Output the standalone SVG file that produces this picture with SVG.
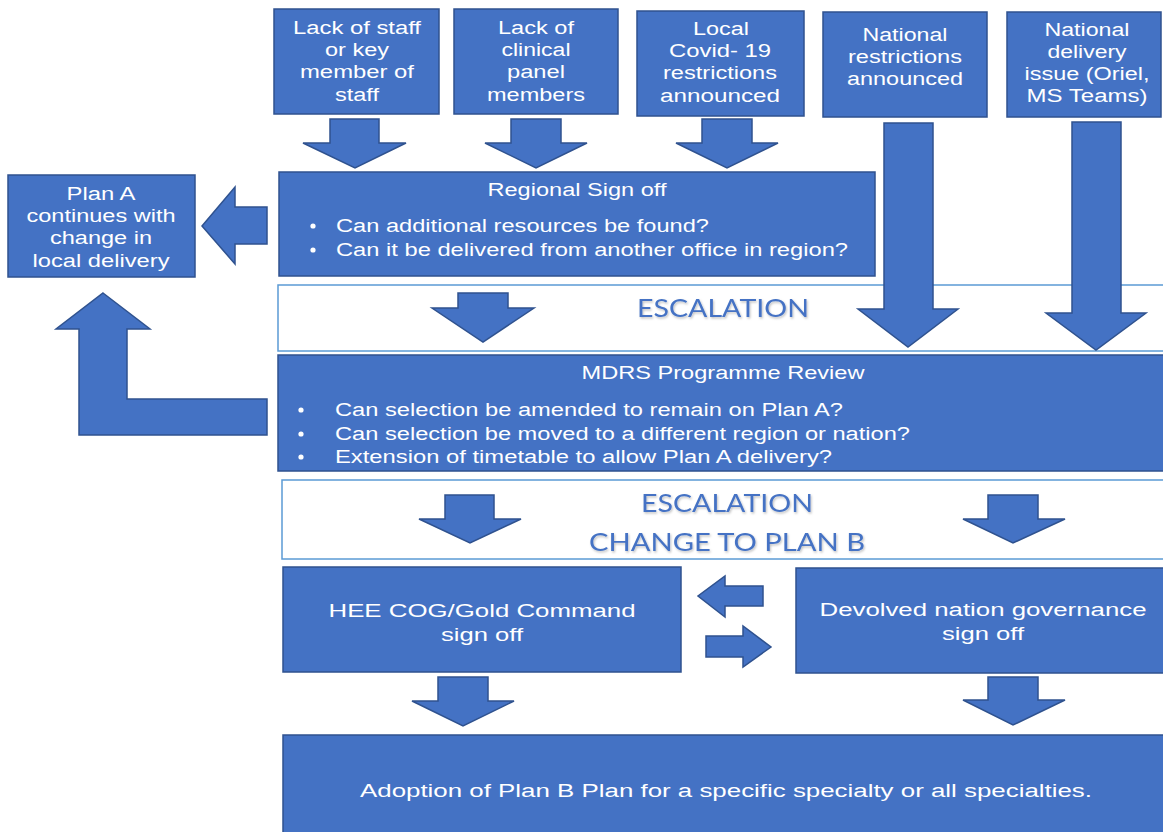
<svg xmlns="http://www.w3.org/2000/svg" width="1163" height="832" viewBox="0 0 1163 832">
<defs>
<style>
.box{fill:#4472C4;stroke:#2F528F;stroke-width:1.5}
.band{fill:#FFFFFF;stroke:#5B9BD5;stroke-width:1.5}
.arr{fill:#4472C4;stroke:#2F528F;stroke-width:1.5;stroke-linejoin:miter}
.t{font-family:"Liberation Sans",Arial,sans-serif;font-size:18px;fill:#FFFFFF;text-anchor:middle}
.tl{font-family:"Liberation Sans",Arial,sans-serif;font-size:18px;fill:#FFFFFF}
.esc{font-family:Lato,"Open Sans",sans-serif;font-size:25px;fill:#4472C4;filter:url(#sh)}
</style>
<filter id="sh" x="-10%" y="-30%" width="120%" height="160%">
<feDropShadow dx="1" dy="1.5" stdDeviation="1" flood-color="#000000" flood-opacity="0.25"/>
</filter>
</defs>
<rect width="1163" height="832" fill="#FFFFFF"/>

<g id="lack-staff">
<rect class="box" x="274" y="9" width="165" height="105"/>
<text class="t" x="357" y="34" textLength="128" lengthAdjust="spacingAndGlyphs">Lack of staff</text>
<text class="t" x="357" y="56" textLength="64" lengthAdjust="spacingAndGlyphs">or key</text>
<text class="t" x="357" y="78" textLength="114" lengthAdjust="spacingAndGlyphs">member of</text>
<text class="t" x="357" y="101" textLength="44" lengthAdjust="spacingAndGlyphs">staff</text>
</g>
<g id="lack-panel">
<rect class="box" x="454" y="9" width="164" height="105"/>
<text class="t" x="536" y="34" textLength="76" lengthAdjust="spacingAndGlyphs">Lack of</text>
<text class="t" x="536" y="56" textLength="69" lengthAdjust="spacingAndGlyphs">clinical</text>
<text class="t" x="536" y="78" textLength="58" lengthAdjust="spacingAndGlyphs">panel</text>
<text class="t" x="536" y="101" textLength="98" lengthAdjust="spacingAndGlyphs">members</text>
</g>
<g id="local-covid">
<rect class="box" x="637" y="11" width="167" height="105"/>
<text class="t" x="721" y="35" textLength="56" lengthAdjust="spacingAndGlyphs">Local</text>
<text class="t" x="720" y="57" textLength="102" lengthAdjust="spacingAndGlyphs">Covid- 19</text>
<text class="t" x="720" y="79" textLength="114" lengthAdjust="spacingAndGlyphs">restrictions</text>
<text class="t" x="720" y="102" textLength="120" lengthAdjust="spacingAndGlyphs">announced</text>
</g>
<g id="national-restrictions">
<rect class="box" x="823" y="12" width="164" height="105"/>
<text class="t" x="905" y="41" textLength="85" lengthAdjust="spacingAndGlyphs">National</text>
<text class="t" x="905" y="63" textLength="114" lengthAdjust="spacingAndGlyphs">restrictions</text>
<text class="t" x="905" y="85" textLength="116" lengthAdjust="spacingAndGlyphs">announced</text>
</g>
<g id="national-delivery">
<rect class="box" x="1007" y="12" width="154" height="105"/>
<text class="t" x="1087" y="36" textLength="85" lengthAdjust="spacingAndGlyphs">National</text>
<text class="t" x="1087" y="58" textLength="79" lengthAdjust="spacingAndGlyphs">delivery</text>
<text class="t" x="1087" y="80" textLength="125" lengthAdjust="spacingAndGlyphs">issue (Oriel,</text>
<text class="t" x="1087" y="102" textLength="121" lengthAdjust="spacingAndGlyphs">MS Teams)</text>
</g>

<g id="plan-a">
<rect class="box" x="8" y="175" width="187" height="102"/>
<text class="t" x="101" y="200" textLength="69" lengthAdjust="spacingAndGlyphs">Plan A</text>
<text class="t" x="101" y="222" textLength="149" lengthAdjust="spacingAndGlyphs">continues with</text>
<text class="t" x="101" y="244" textLength="102" lengthAdjust="spacingAndGlyphs">change in</text>
<text class="t" x="101" y="267" textLength="137" lengthAdjust="spacingAndGlyphs">local delivery</text>
</g>

<g id="regional-sign-off">
<rect class="box" x="279" y="172" width="596" height="104"/>
<text class="t" x="577" y="196" textLength="179" lengthAdjust="spacingAndGlyphs">Regional Sign off</text>
<circle cx="313" cy="226" r="2.6" fill="#FFFFFF"/>
<circle cx="313" cy="250" r="2.6" fill="#FFFFFF"/>
<text class="tl" x="336" y="232" textLength="373" lengthAdjust="spacingAndGlyphs">Can additional resources be found?</text>
<text class="tl" x="336" y="256" textLength="512" lengthAdjust="spacingAndGlyphs">Can it be delivered from another office in region?</text>
</g>

<g id="escalation-1">
<rect class="band" x="278" y="285" width="900" height="66"/>
<text class="esc" x="637" y="317" textLength="172" lengthAdjust="spacingAndGlyphs">ESCALATION</text>
</g>

<g id="mdrs-review">
<rect class="box" x="278" y="355" width="900" height="116"/>
<text class="t" x="723" y="379" textLength="283" lengthAdjust="spacingAndGlyphs">MDRS Programme Review</text>
<circle cx="301" cy="410" r="2.6" fill="#FFFFFF"/>
<circle cx="301" cy="434" r="2.6" fill="#FFFFFF"/>
<circle cx="301" cy="457" r="2.6" fill="#FFFFFF"/>
<text class="tl" x="335" y="416" textLength="508" lengthAdjust="spacingAndGlyphs">Can selection be amended to remain on Plan A?</text>
<text class="tl" x="335" y="440" textLength="575" lengthAdjust="spacingAndGlyphs">Can selection be moved to a different region or nation?</text>
<text class="tl" x="335" y="463" textLength="497" lengthAdjust="spacingAndGlyphs">Extension of timetable to allow Plan A delivery?</text>
</g>

<g id="escalation-2">
<rect class="band" x="282" y="480" width="900" height="79"/>
<text class="esc" x="641" y="512" textLength="172" lengthAdjust="spacingAndGlyphs">ESCALATION</text>
<text class="esc" x="589" y="551" textLength="276" lengthAdjust="spacingAndGlyphs">CHANGE TO PLAN B</text>
</g>

<g id="hee-cog">
<rect class="box" x="283" y="567" width="398" height="105"/>
<text class="t" x="482" y="617" textLength="307" lengthAdjust="spacingAndGlyphs">HEE COG/Gold Command</text>
<text class="t" x="482" y="641" textLength="82" lengthAdjust="spacingAndGlyphs">sign off</text>
</g>

<g id="devolved-nation">
<rect class="box" x="796" y="568" width="380" height="105"/>
<text class="t" x="983" y="616" textLength="327" lengthAdjust="spacingAndGlyphs">Devolved nation governance</text>
<text class="t" x="983" y="640" textLength="82" lengthAdjust="spacingAndGlyphs">sign off</text>
</g>

<g id="plan-b-adoption">
<rect class="box" x="283" y="735" width="900" height="110"/>
<text class="t" x="726" y="797" textLength="732" lengthAdjust="spacingAndGlyphs">Adoption of Plan B Plan for a specific specialty or all specialties.</text>
</g>

<g id="connectors">
<polygon class="arr" points="330,119 379,119 379,143 406,143 355,168 303,143 330,143"/>
<polygon class="arr" points="511,119 561,119 561,143 587,143 536,168 485,143 511,143"/>
<polygon class="arr" points="702,119 752,119 752,143 778,143 727,168 676,143 702,143"/>
<polygon class="arr" points="884,123 933,123 933,309 958,309 908,347 858,309 884,309"/>
<polygon class="arr" points="1072,122 1121,122 1121,313 1146,313 1096,350 1046,313 1072,313"/>
<polygon class="arr" points="267,207 235,207 235,187 202,226 235,264 235,244 267,244"/>
<polygon class="arr" points="103,293 150,329 127,329 127,399 267,399 267,435 79,435 79,329 56,329"/>
<polygon class="arr" points="458,293 508,293 508,308 534,308 483,342 432,308 458,308"/>
<polygon class="arr" points="445,495 494,495 494,519 521,519 470,543 419,519 445,519"/>
<polygon class="arr" points="988,495 1038,495 1038,519 1065,519 1013,543 963,519 988,519"/>
<polygon class="arr" points="763,586 725,586 725,576 698,596 725,617 725,606 763,606"/>
<polygon class="arr" points="706,636 743,636 743,626 771,647 743,667 743,657 706,657"/>
<polygon class="arr" points="438,677 488,677 488,701 514,701 463,726 412,701 438,701"/>
<polygon class="arr" points="988,677 1038,677 1038,700 1065,700 1013,725 963,700 988,700"/>
</g>
</svg>
